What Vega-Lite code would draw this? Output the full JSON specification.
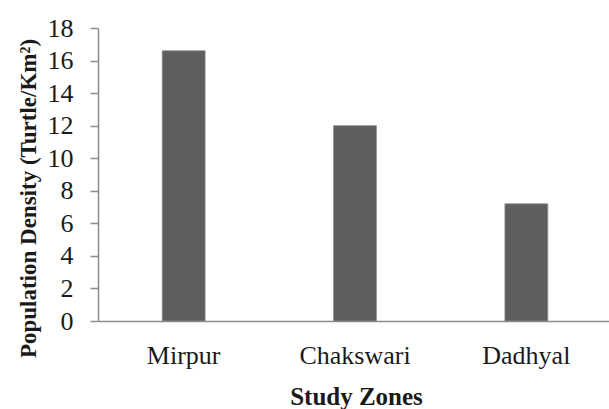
{
  "$schema": "https://vega.github.io/schema/vega-lite/v6.json",
  "width": 514,
  "height": 293,
  "autosize": {"type": "none"},
  "padding": {"left": 98, "top": 28, "right": 0, "bottom": 88},
  "background": "white",
  "config": {"view": {"stroke": null}, "font": "Times New Roman, Liberation Serif, serif"},
  "data": {
    "values": [
      {"zone": "Mirpur", "density": 16.6},
      {"zone": "Chakswari", "density": 12.0},
      {"zone": "Dadhyal", "density": 7.2}
    ]
  },
  "mark": {"type": "bar", "color": "#5e5e5e", "stroke": "#8a8a8a", "strokeWidth": 0.8},
  "encoding": {
    "x": {
      "field": "zone",
      "type": "nominal",
      "sort": ["Mirpur", "Chakswari", "Dadhyal"],
      "scale": {"paddingInner": 0.75, "paddingOuter": 0.375},
      "axis": {
        "title": "Study Zones",
        "labelAngle": 0,
        "labelFont": "Times New Roman, Liberation Serif, serif",
        "labelFontSize": 26,
        "labelColor": "#1a1a1a",
        "labelPadding": 21,
        "ticks": false,
        "domainColor": "#8c8c8c",
        "domainWidth": 1.5,
        "titleFont": "Times New Roman, Liberation Serif, serif",
        "titleFontSize": 25,
        "titleFontWeight": "bold",
        "titleColor": "#1a1a1a",
        "titleBaseline": "alphabetic",
        "titleY": 83,
        "titleX": 258
      }
    },
    "y": {
      "field": "density",
      "type": "quantitative",
      "scale": {"domain": [0, 18], "nice": false},
      "axis": {
        "title": "Population Density (Turtle/Km²)",
        "values": [0, 2, 4, 6, 8, 10, 12, 14, 16, 18],
        "grid": false,
        "labelFont": "Times New Roman, Liberation Serif, serif",
        "labelFontSize": 26,
        "labelColor": "#1a1a1a",
        "labelPadding": 17,
        "tickSize": 8,
        "tickColor": "#8c8c8c",
        "tickWidth": 1.5,
        "domainColor": "#8c8c8c",
        "domainWidth": 1.5,
        "titleFont": "Times New Roman, Liberation Serif, serif",
        "titleFontSize": 23,
        "titleFontWeight": "bold",
        "titleColor": "#1a1a1a",
        "titleBaseline": "middle",
        "titleX": -70,
        "titleY": 170,
        "titleAngle": -90
      }
    }
  }
}
